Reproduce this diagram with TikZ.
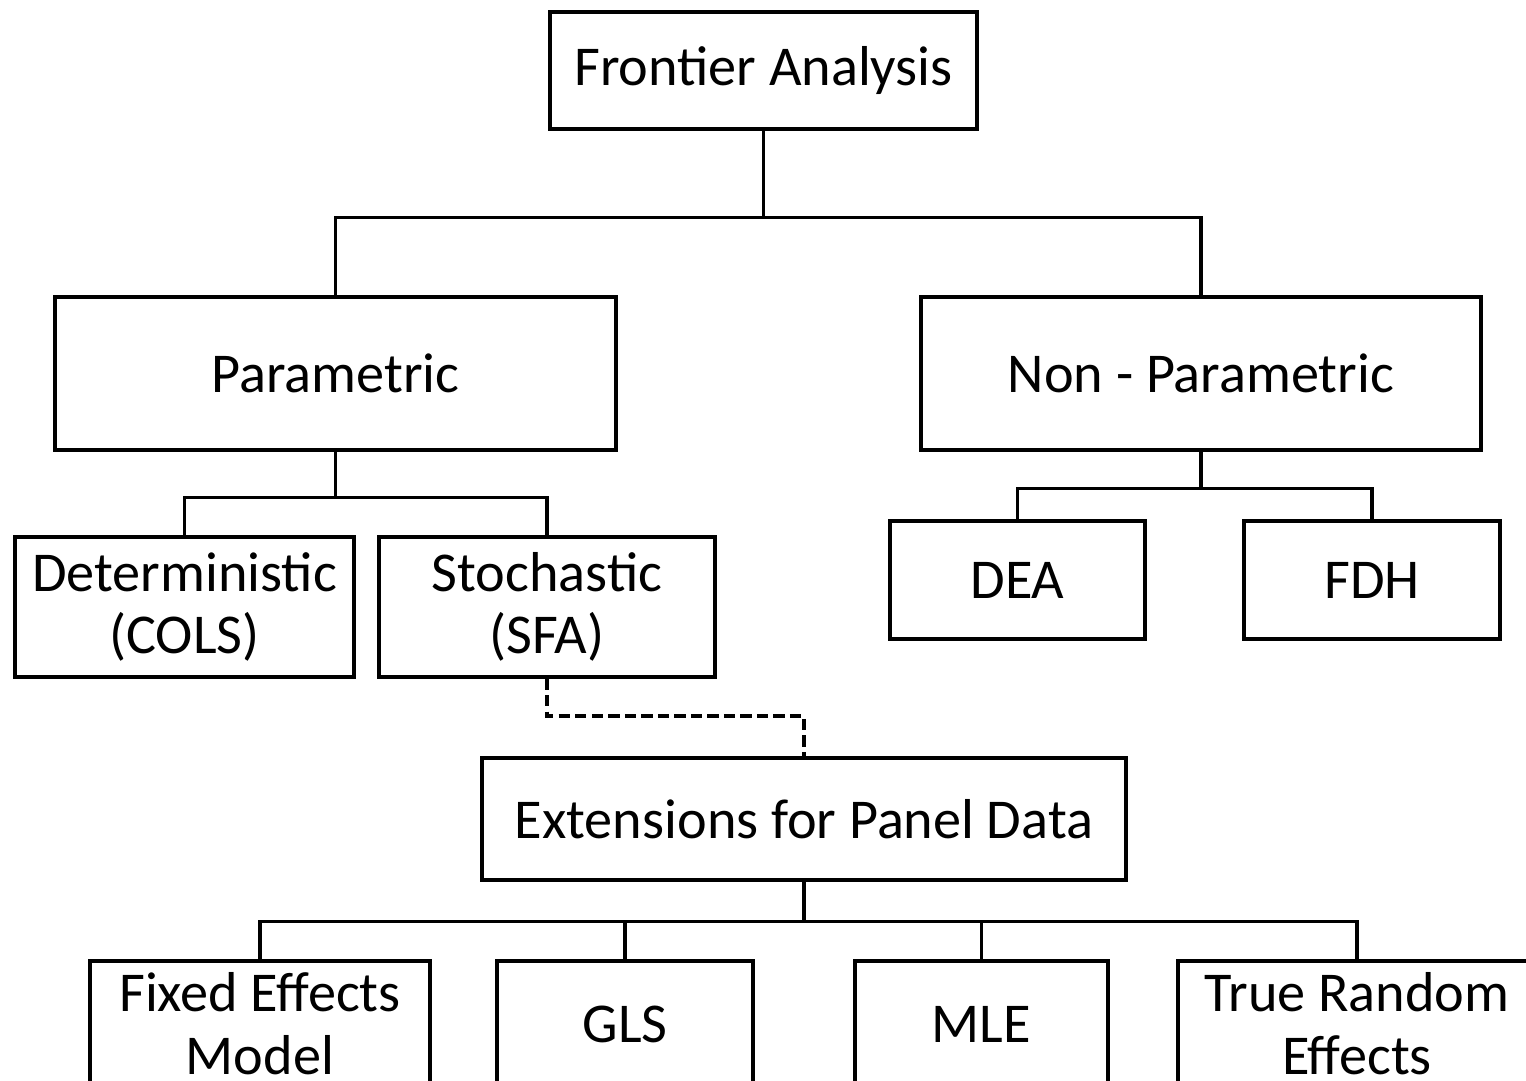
\documentclass[tikz,border=0pt]{standalone}
\usepackage{fontspec}
\setmainfont{Carlito}
\usetikzlibrary{positioning, calc}
\tikzset{
  box/.style={rectangle, draw, line width=0.9pt, align=center,
    font=\fontsize{16}{17.5}\selectfont, inner sep=2pt},
  leafbox/.style={box, font=\fontsize{16}{18}\selectfont},
  link/.style={line width=0.9pt},
  panellink/.style={line width=1.1pt, dash pattern=on 3.2pt off 1.5pt},
}

\begin{document}
\begin{tikzpicture}[font=\small]
  \useasboundingbox (0,0) rectangle (15.26,-10.81);
  \clip (0,0) rectangle (15.26,-10.81);

  \node[box, minimum width=4.27cm, minimum height=1.17cm] (frontier)
    at (7.635,-0.705) {Frontier Analysis};
  \node[box, minimum width=5.61cm, minimum height=1.53cm] (param)
    at (3.355,-3.735) {Parametric};
  \node[box, minimum width=5.60cm, minimum height=1.53cm] (nonparam)
    at (12.01,-3.735) {Non - Parametric};

  \node[box, minimum width=3.39cm, minimum height=1.40cm] (determ)
    at (1.845,-6.07) {Deterministic\\(COLS)};
  \node[box, minimum width=3.36cm, minimum height=1.40cm] (stoch)
    at (5.47,-6.07) {Stochastic\\(SFA)};
  \node[box, minimum width=2.55cm, minimum height=1.18cm] (dea)
    at (10.175,-5.80) {DEA};
  \node[box, minimum width=2.56cm, minimum height=1.18cm] (fdh)
    at (13.72,-5.80) {FDH};

  \node[box, minimum width=6.44cm, minimum height=1.22cm] (panel)
    at (8.04,-8.19) {Extensions for Panel Data};

  \node[leafbox, minimum width=3.40cm, minimum height=1.26cm] (fixed)
    at (2.60,-10.24) {Fixed Effects\\Model};
  \node[leafbox, minimum width=2.56cm, minimum height=1.26cm] (gls)
    at (6.25,-10.24) {GLS};
  \node[leafbox, minimum width=2.53cm, minimum height=1.26cm] (mle)
    at (9.815,-10.24) {MLE};
  \node[leafbox, minimum width=3.58cm, minimum height=1.26cm] (truerand)
    at (13.57,-10.24) {True Random\\Effects};

  % bus lines
  \coordinate (topbus) at ($(frontier.south)+(0,-0.87)$);
  \coordinate (parambus) at ($(param.south)+(0,-0.46)$);
  \coordinate (nonparambus) at ($(nonparam.south)+(0,-0.37)$);
  \coordinate (sfabend) at ($(panel.north)+(0,0.40)$);
  \coordinate (panelbus) at ($(panel.south)+(0,-0.40)$);

  \draw[link] (frontier.south) -- (topbus);
  \draw[link] (param.north) |- (topbus) -| (nonparam.north);

  \draw[link] (param.south) -- (parambus);
  \draw[link] (determ.north) |- (parambus) -| (stoch.north);
  \draw[link] (nonparam.south) -- (nonparambus);
  \draw[link] (dea.north) |- (nonparambus) -| (fdh.north);

  % SFA to panel extensions
  \draw[panellink] (stoch.south) |- (sfabend) -- (panel.north);

  \draw[link] (panel.south) -- (panelbus);
  \draw[link] (fixed.north) |- (panelbus) -| (truerand.north);
  \draw[link] (gls.north) -- (gls.north |- panelbus);
  \draw[link] (mle.north) -- (mle.north |- panelbus);
\end{tikzpicture}
\end{document}
